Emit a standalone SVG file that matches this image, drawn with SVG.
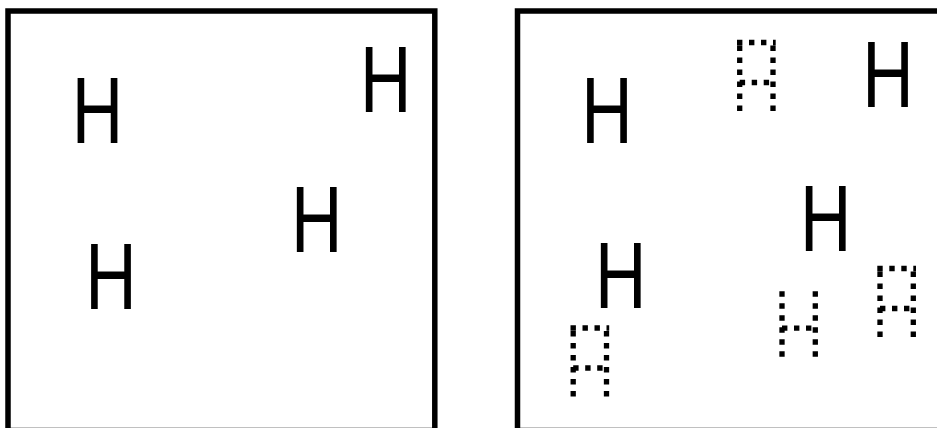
<svg xmlns="http://www.w3.org/2000/svg" xmlns:xlink="http://www.w3.org/1999/xlink" width="937" height="428" viewBox="0 0 937 428">
  <style>
    .box { fill: none; stroke: #000; stroke-width: 5.5; }
    .h { font-family: "Liberation Sans", Arial, sans-serif; font-size: 95px; fill: #000; text-anchor: middle; }
    .dot { fill: none; stroke: #000; stroke-width: 5.3; stroke-dasharray: 5.4 6.6; }
  </style>
  <defs>
    <path id="shapeA" class="dot" d="M0,0 V-71 M33.3,0 V-71 M-2.7,-68.5 H36 M0,-28.5 H33.3"/>
    <path id="shapeH" class="dot" d="M0,0 V-71 M33.3,0 V-71 M0,-28.5 H33.3"/>
  </defs>
  <rect width="937" height="428" fill="#fff"/>
  <g id="panel-left">
    <rect class="box" x="8" y="11" width="426.8" height="419.5"/>
    <g id="h1"><text class="h" transform="translate(97.5,143.3) scale(0.75,1)">H</text></g>
    <g id="h2"><text class="h" transform="translate(385.7,112) scale(0.75,1)">H</text></g>
    <g id="h3"><text class="h" transform="translate(316.7,251.7) scale(0.75,1)">H</text></g>
    <g id="h4"><text class="h" transform="translate(111,309) scale(0.75,1)">H</text></g>
  </g>
  <g id="panel-right">
    <rect class="box" x="517.5" y="11" width="426.8" height="419.5"/>
    <g id="h5"><text class="h" transform="translate(607,143.3) scale(0.75,1)">H</text></g>
    <g id="h6"><text class="h" transform="translate(888,107) scale(0.75,1)">H</text></g>
    <g id="h7"><text class="h" transform="translate(825.8,251) scale(0.75,1)">H</text></g>
    <g id="h8"><text class="h" transform="translate(620.7,308) scale(0.75,1)">H</text></g>
    <g id="dotted-a1"><use xlink:href="#shapeA" href="#shapeA" transform="translate(739.7,111)"/></g>
    <g id="dotted-a2"><use xlink:href="#shapeA" href="#shapeA" transform="translate(573.2,396.5)"/></g>
    <g id="dotted-a3"><use xlink:href="#shapeA" href="#shapeA" transform="translate(880,337)"/></g>
    <g id="dotted-h"><use xlink:href="#shapeH" href="#shapeH" transform="translate(782,356.7)"/></g>
  </g>
  <g id="connectors"/>
</svg>
